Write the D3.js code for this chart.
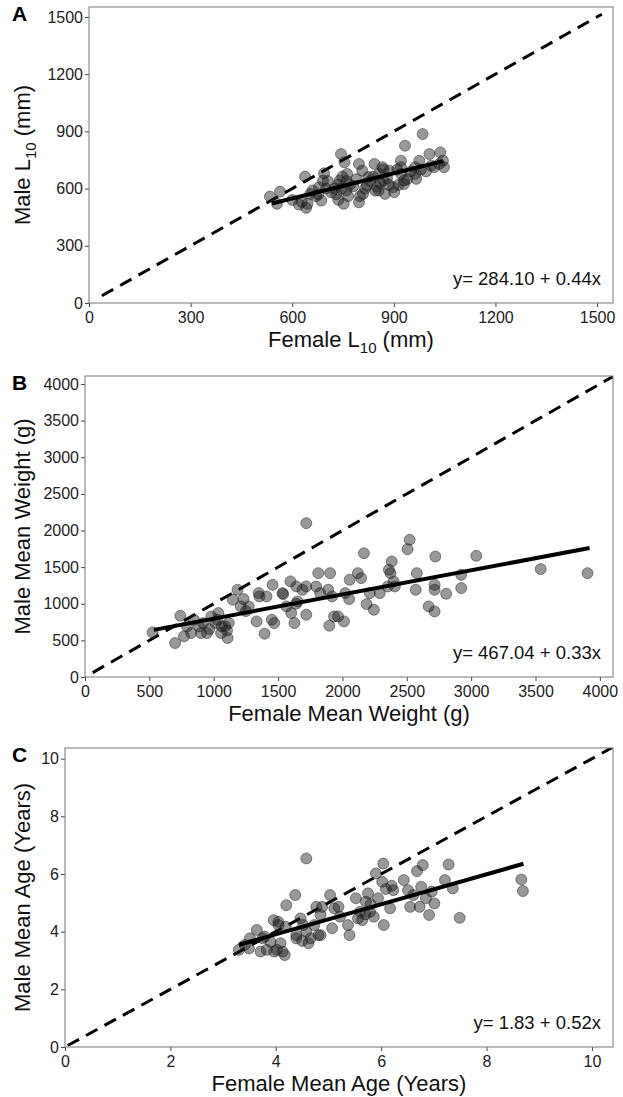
<!DOCTYPE html>
<html>
<head>
<meta charset="utf-8">
<script src="https://cdn.jsdelivr.net/npm/d3@7"></script>
<style>
  body { margin: 0; background: #fff; }
  text { font-family: "Liberation Sans", Arial, sans-serif; }
</style>
</head>
<body>
<div id="chart"></div>
<script>
// Panel A: L10 (mm), [female, male]
const l10Points = [
  [534,558],[564,584],[555,520],[620,516],[628,530],[641,499],[638,663],[653,572],[660,590],[677,569],
  [679,607],[694,680],[691,642],[686,537],[700,600],[715,580],[736,541],[740,642],[744,781],[754,738],
  [748,663],[762,677],[735,620],[760,590],[765,560],[752,520],[780,612],[797,528],[797,729],[809,572],
  [807,694],[821,616],[830,640],[839,663],[843,729],[845,589],[850,610],[856,677],[866,712],[870,642],
  [874,572],[880,655],[886,694],[898,607],[901,581],[910,700],[921,746],[921,677],[930,624],[933,825],
  [921,712],[940,650],[950,690],[963,677],[963,712],[975,746],[985,886],[1005,781],[1034,729],[1037,790],
  [1045,746],[1048,712],[1019,712],[966,651],[930,642],[914,620],[860,630],[825,660],[790,650],[770,620],
  [725,600],[705,640],[670,560],[645,520],[600,540],[980,700],[995,690],[1010,720],[870,700],[885,620],
  [855,590],[815,600],[800,560],[760,640],[745,600],[730,570]
];

// Panel B: mean weight (g), [female, male]
const weightPoints = [
  [525,609],[700,464],[741,836],[769,555],[793,691],[824,600],[846,782],[901,600],[948,600],[981,827],
  [1012,736],[1028,782],[1063,691],[1103,636],[1108,532],[1117,736],[1148,1055],[1185,1191],[1210,964],[1232,1064],
  [1272,964],[1333,759],[1349,1145],[1355,1100],[1395,591],[1410,1100],[1457,1259],[1451,782],[1470,736],[1534,1145],
  [1540,1130],[1565,964],[1596,1305],[1602,873],[1627,736],[1642,1236],[1651,1032],[1689,1191],[1719,850],[1719,2100],
  [1719,1236],[1796,1236],[1812,1418],[1827,1145],[1889,1191],[1904,1418],[1920,1100],[1898,700],[1935,827],[1966,827],
  [2012,759],[2022,1145],[2052,1064],[2056,1327],[2120,1418],[2145,1350],[2167,1691],[2188,995],[2244,918],[2213,1145],
  [2290,1145],[2352,1236],[2361,1464],[2383,1577],[2373,1418],[2398,1305],[2407,1236],[2506,1745],[2522,1873],[2569,1191],
  [2578,1418],[2670,964],[2716,895],[2716,1191],[2716,1259],[2722,1645],[2806,1136],[2923,1214],[2923,1395],[3040,1655],
  [3540,1473],[3904,1418],[885,691],[917,736],[966,655],[1036,873],[1057,600],[1088,691],[1250,900],[1640,1000]
];

// Panel C: mean age (years), [female, male]
const agePoints = [
  [3.30,3.37],[3.41,3.54],[3.51,3.77],[3.64,4.06],[3.71,3.31],[3.75,3.77],[3.83,3.37],[3.90,3.65],[3.96,4.40],[4.02,3.37],
  [4.05,4.34],[4.09,3.60],[4.13,3.31],[4.17,3.19],[4.20,4.92],[4.19,4.17],[4.37,5.27],[4.39,3.88],[4.47,4.46],[4.52,4.23],
  [4.58,6.54],[4.62,3.60],[4.73,4.23],[4.77,4.86],[4.81,3.88],[4.85,4.58],[5.03,5.27],[5.07,4.12],[5.11,4.81],[5.19,4.86],
  [5.22,4.52],[5.37,4.23],[5.40,3.88],[5.52,5.16],[5.56,4.46],[5.64,4.40],[5.71,5.04],[5.75,5.33],[5.79,4.69],[5.86,4.52],
  [5.90,6.02],[5.94,5.16],[6.02,5.73],[6.04,6.36],[6.05,4.23],[6.09,5.48],[6.17,4.81],[6.20,5.59],[6.23,5.44],[6.43,5.79],
  [6.51,5.44],[6.55,4.86],[6.61,5.27],[6.68,6.10],[6.73,4.86],[6.76,5.56],[6.79,6.31],[6.85,5.16],[6.91,4.58],[6.96,5.39],
  [7.01,4.98],[7.21,5.79],[7.28,6.33],[7.36,5.50],[7.49,4.48],[8.66,5.81],[8.69,5.41],[3.49,3.42],[3.79,3.83],[3.97,3.31],
  [4.05,4.23],[4.39,3.77],[4.50,3.68],[4.66,3.77],[4.85,3.88],[4.58,4.00],[4.88,4.86],[5.60,4.69],[5.80,4.95],[5.70,4.60]
];

// axis ticks
const l10Ticks = [0, 300, 600, 900, 1200, 1500];
const weightTicks = [0, 500, 1000, 1500, 2000, 2500, 3000, 3500, 4000];
const ageTicks = [0, 2, 4, 6, 8, 10];

// fitted lines: intercept, slope, x range of fit
const l10Fit = { a: 284.10, b: 0.44, from: 540, to: 1045 };
const weightFit = { a: 467.04, b: 0.33, from: 535, to: 3920 };
const ageFit = { a: 1.83, b: 0.52, from: 3.3, to: 8.7 };

const width = 623,
    height = 1097;

const svg = d3.select("#chart")
    .append("svg")
    .attr("width", width)
    .attr("height", height);

function drawPanel(p) {
    const xScale = d3.scaleLinear().domain(p.xDomain).range([p.left, p.right]);
    const yScale = d3.scaleLinear().domain(p.yDomain).range([p.bottom, p.top]);

    const g = svg.append("g");

    const clipId = "clip-" + p.letter;
    g.append("clipPath").attr("id", clipId)
        .append("rect")
        .attr("x", p.left).attr("y", p.top)
        .attr("width", p.right - p.left).attr("height", p.bottom - p.top);

    // axes
    const xAxis = g.append("g")
        .attr("transform", `translate(0, ${p.bottom})`)
        .call(d3.axisBottom(xScale).tickValues(p.ticksX).tickFormat(d3.format("d"))
            .tickSize(4).tickSizeOuter(0).tickPadding(5));
    const yAxis = g.append("g")
        .attr("transform", `translate(${p.left}, 0)`)
        .call(d3.axisLeft(yScale).tickValues(p.ticksY).tickFormat(d3.format("d"))
            .tickSize(4).tickSizeOuter(0).tickPadding(2));

    [xAxis, yAxis].forEach(ax => {
        ax.select(".domain").remove();
        ax.selectAll(".tick line").attr("stroke", "#444");
        ax.selectAll(".tick text")
            .attr("fill", "#222")
            .style("font-size", "16px")
            .style("font-family", "'Liberation Sans', Arial, sans-serif");
    });

    const plot = g.append("g").attr("clip-path", `url(#${clipId})`);

    // 1:1 line
    plot.append("line")
        .attr("x1", xScale(p.diag[0])).attr("y1", yScale(p.diag[0]))
        .attr("x2", xScale(p.diag[1])).attr("y2", yScale(p.diag[1]))
        .attr("stroke", "black")
        .attr("stroke-width", 3)
        .attr("stroke-dasharray", "13,8");

    // points
    plot.selectAll("circle")
        .data(p.points)
        .enter()
        .append("circle")
        .attr("cx", d => xScale(d[0]))
        .attr("cy", d => yScale(d[1]))
        .attr("r", 5.5)
        .attr("fill", "#1a1a1a")
        .attr("fill-opacity", 0.45)
        .attr("stroke", "#1a1a1a")
        .attr("stroke-opacity", 0.45)
        .attr("stroke-width", 1);

    // regression line
    plot.append("line")
        .attr("x1", xScale(p.fit.from)).attr("y1", yScale(p.fit.a + p.fit.b * p.fit.from))
        .attr("x2", xScale(p.fit.to)).attr("y2", yScale(p.fit.a + p.fit.b * p.fit.to))
        .attr("stroke", "black")
        .attr("stroke-width", 4);

    // border
    g.append("rect")
        .attr("x", p.left).attr("y", p.top)
        .attr("width", p.right - p.left).attr("height", p.bottom - p.top)
        .attr("fill", "none")
        .attr("stroke", "#777")
        .attr("stroke-width", 1);

    // equation
    g.append("text")
        .attr("x", p.right - 12)
        .attr("y", p.bottom - 18)
        .style("text-anchor", "end")
        .style("font-size", "18.5px")
        .attr("fill", "#111")
        .text(p.equation);

    // panel letter
    g.append("text")
        .attr("x", 12)
        .attr("y", p.top + 14)
        .style("font-size", "21px")
        .style("font-weight", "bold")
        .text(p.letter);

    // x-axis label
    const xl = g.append("text")
        .attr("x", (p.left + p.right) / 2)
        .attr("y", p.bottom + 44)
        .style("text-anchor", "middle")
        .style("font-size", "22px")
        .attr("fill", "#111");
    p.xLabel.forEach(s => xl.append("tspan")
        .style("font-size", s.sub ? "15px" : null)
        .attr("dy", s.sub ? 6 : (s.after ? -6 : null))
        .text(s.t));

    // y-axis label
    const yl = g.append("text")
        .attr("x", -(p.top + p.bottom) / 2)
        .attr("y", 30)
        .attr("transform", "rotate(-90)")
        .style("text-anchor", "middle")
        .style("font-size", "22px")
        .attr("fill", "#111");
    p.yLabel.forEach(s => yl.append("tspan")
        .style("font-size", s.sub ? "15px" : null)
        .attr("dy", s.sub ? 6 : (s.after ? -6 : null))
        .text(s.t));
}

drawPanel({
    letter: "A", left: 89, right: 613, top: 7, bottom: 303,
    xDomain: [0, 1547], yDomain: [0, 1552],
    ticksX: l10Ticks, ticksY: l10Ticks,
    points: l10Points, fit: l10Fit, diag: [38, 1514],
    equation: "y= 284.10 + 0.44x",
    xLabel: [{ t: "Female L" }, { t: "10", sub: true }, { t: " (mm)", after: true }],
    yLabel: [{ t: "Male L" }, { t: "10", sub: true }, { t: " (mm)", after: true }]
});

drawPanel({
    letter: "B", left: 85, right: 613, top: 376, bottom: 677,
    xDomain: [0, 4102], yDomain: [0, 4109],
    ticksX: weightTicks, ticksY: weightTicks,
    points: weightPoints, fit: weightFit, diag: [60, 4200],
    equation: "y= 467.04 + 0.33x",
    xLabel: [{ t: "Female Mean Weight (g)" }],
    yLabel: [{ t: "Male Mean Weight (g)" }]
});

drawPanel({
    letter: "C", left: 65, right: 613, top: 748, bottom: 1047,
    xDomain: [0, 10.4], yDomain: [0, 10.37],
    ticksX: ageTicks, ticksY: ageTicks,
    points: agePoints, fit: ageFit, diag: [0.05, 10.6],
    equation: "y= 1.83 + 0.52x",
    xLabel: [{ t: "Female Mean Age (Years)" }],
    yLabel: [{ t: "Male Mean Age (Years)" }]
});
</script>
</body>
</html>
